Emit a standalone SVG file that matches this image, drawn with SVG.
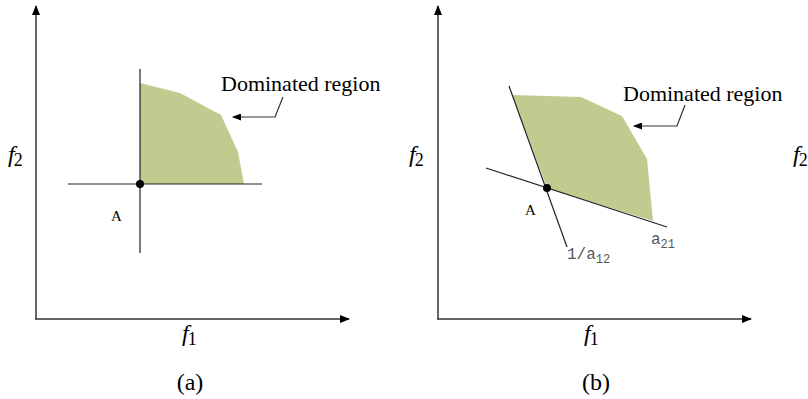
<svg xmlns="http://www.w3.org/2000/svg" width="808" height="399" viewBox="0 0 808 399">
<style>
.ax{stroke:#333;stroke-width:1.5;fill:none}
.ln{stroke:#222;stroke-width:1.2;fill:none}
.reg{fill:#c2ca90;stroke:none}
.lead{stroke:#333;stroke-width:1.2;fill:none}
text.t{font-family:'Liberation Serif','Times New Roman',serif;fill:#000}
.it{font-style:italic}
text.m{font-family:'Liberation Mono','Courier New',monospace;fill:#555}
</style>
<defs>
<marker id="ah" markerWidth="10" markerHeight="8" refX="9" refY="4" orient="auto" markerUnits="userSpaceOnUse">
<path d="M0,0 L10,4 L0,8 Z" fill="#000"/>
</marker>
<marker id="sh" markerWidth="9" markerHeight="7" refX="8" refY="3.5" orient="auto" markerUnits="userSpaceOnUse">
<path d="M0,0 L9,3.5 L0,7 Z" fill="#000"/>
</marker>
</defs>
<g id="panel-a">
<g id="axes-a">
<line class="ax" x1="36" y1="319" x2="36" y2="6" marker-end="url(#ah)"/>
<line class="ax" x1="35" y1="319" x2="349" y2="319" marker-end="url(#ah)"/>
</g>
<g id="region-a">
<polygon class="reg" points="140,83 180,93 221,115 238,152 244,184 140,184"/>
</g>
<g id="lines-a">
<line class="ln" x1="140" y1="69" x2="140" y2="253"/>
<line class="ln" x1="68" y1="184" x2="262" y2="184"/>
<circle cx="140" cy="184" r="4" fill="#000"/>
</g>
<g id="callout-a">
<polyline class="lead" points="283,97 275,117 233,117" marker-end="url(#sh)"/>
<text class="t" x="221" y="91" font-size="22">Dominated region</text>
</g>
<text class="t" x="111" y="221" font-size="15">A</text>
<text class="t" x="8" y="162" font-size="24"><tspan class="it">f</tspan><tspan font-size="18" dx="-1" dy="4">2</tspan></text>
<text class="t" x="182" y="341" font-size="24"><tspan class="it">f</tspan><tspan font-size="18" dx="-1" dy="4">1</tspan></text>
<text class="t" x="190" y="390" font-size="24" text-anchor="middle">(a)</text>
</g>
<g id="panel-b">
<g id="axes-b">
<line class="ax" x1="438" y1="319" x2="438" y2="6" marker-end="url(#ah)"/>
<line class="ax" x1="437" y1="319" x2="751" y2="319" marker-end="url(#ah)"/>
</g>
<g id="region-b">
<polygon class="reg" points="512.5,95 581,97 622,116 647,159 653,221 547,188"/>
</g>
<g id="lines-b">
<line class="ln" x1="509" y1="86" x2="567" y2="247"/>
<line class="ln" x1="486" y1="168" x2="667" y2="227"/>
<circle cx="547" cy="188" r="4" fill="#000"/>
</g>
<g id="callout-b">
<polyline class="lead" points="685,105 677,126 634,126" marker-end="url(#sh)"/>
<text class="t" x="623" y="101" font-size="22">Dominated region</text>
</g>
<text class="t" x="525" y="215" font-size="15">A</text>
<text class="m" x="567" y="259" font-size="16">1/a<tspan font-size="12" dy="4">12</tspan></text>
<text class="m" x="651" y="244" font-size="16">a<tspan font-size="12" dy="4">21</tspan></text>
<text class="t" x="409" y="162" font-size="24"><tspan class="it">f</tspan><tspan font-size="18" dx="-1" dy="4">2</tspan></text>
<text class="t" x="584" y="341" font-size="24"><tspan class="it">f</tspan><tspan font-size="18" dx="-1" dy="4">1</tspan></text>
<text class="t" x="596" y="390" font-size="24" text-anchor="middle">(b)</text>
</g>
<text class="t" x="793" y="162" font-size="24"><tspan class="it">f</tspan><tspan font-size="18" dx="-1" dy="4">2</tspan></text>
</svg>
